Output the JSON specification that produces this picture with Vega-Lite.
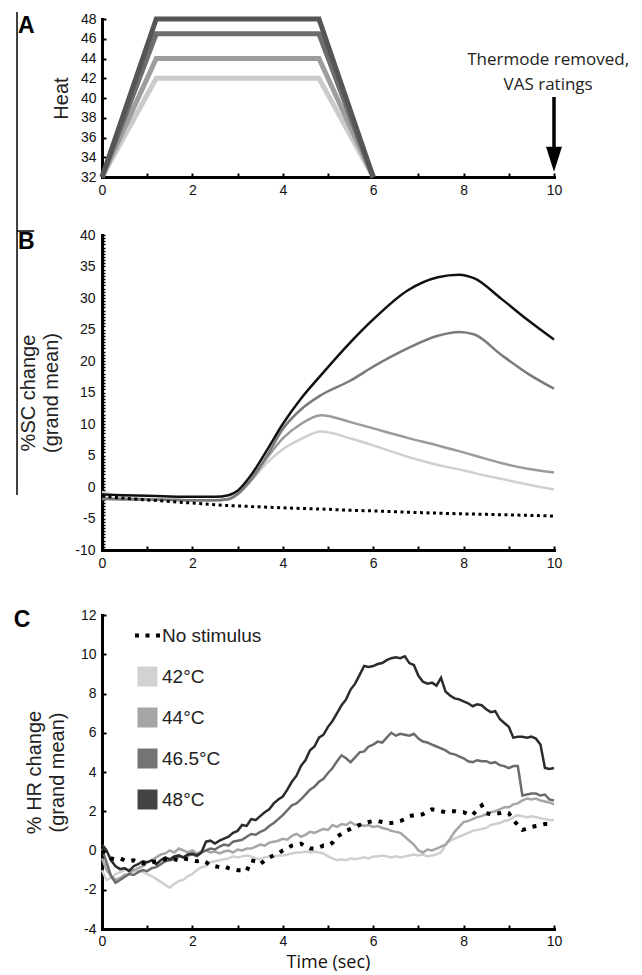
{
  "$schema": "https://vega.github.io/schema/vega-lite/v6.json",
  "padding": {"left": 13, "top": 9, "right": 5, "bottom": 5},
  "background": "white",
  "config": {
    "view": {"stroke": null},
    "axis": {
      "grid": false, "domainColor": "#000", "domainWidth": 3, "domainCap": "square",
      "tickColor": "#000", "tickWidth": 2, "tickSize": -4, "labelPadding": 10,
      "labelFont": "Liberation Sans", "labelFontSize": 14, "labelColor": "#111",
      "titleFont": "Liberation Sans", "titleFontSize": 20, "titleFontWeight": "normal", "titleColor": "#222",
      "labelOverlap": false, "labelSeparation": -12, "labelBound": false, "labelFlush": false
    }
  },
  "datasets": {
    "one": [{}],
    "heat": [
      {"t": 0, "a": 32, "b": 32, "c": 32, "d": 32},
      {"t": 1.2, "a": 42, "b": 44, "c": 46.5, "d": 48},
      {"t": 4.8, "a": 42, "b": 44, "c": 46.5, "d": 48},
      {"t": 6, "a": 32, "b": 32, "c": 32, "d": 32}
    ],
    "sc": [
      {"t": 0, "n": -1.4, "a": -0.8, "b": -1.9, "c": -1.8, "d": -1.2},
      {"t": 0.5, "n": -1.8, "a": -1.6, "b": -2.0, "c": -1.9, "d": -1.3},
      {"t": 1, "n": -2.05, "a": -1.9, "b": -2.0, "c": -2.0, "d": -1.4},
      {"t": 1.5, "n": -2.3, "a": -2.0, "b": -2.05, "c": -2.05, "d": -1.5},
      {"t": 2, "n": -2.55, "a": -2.1, "b": -2.1, "c": -2.1, "d": -1.55},
      {"t": 2.5, "n": -2.8, "a": -2.15, "b": -2.1, "c": -2.1, "d": -1.55},
      {"t": 2.8, "n": -2.95, "a": -1.9, "b": -1.95, "c": -1.9, "d": -1.3},
      {"t": 3, "n": -3.0, "a": -1.2, "b": -1.15, "c": -1.1, "d": -0.6},
      {"t": 3.3, "n": -3.1, "a": 1.0, "b": 1.1, "c": 1.2, "d": 1.9},
      {"t": 3.67, "n": -3.2, "a": 4.0, "b": 4.8, "c": 5.2, "d": 6.1},
      {"t": 4, "n": -3.3, "a": 6.0, "b": 7.7, "c": 9.2, "d": 10.0},
      {"t": 4.4, "n": -3.4, "a": 7.6, "b": 10.0, "c": 12.3, "d": 14.0},
      {"t": 4.85, "n": -3.5, "a": 8.8, "b": 11.4, "c": 14.6, "d": 17.8},
      {"t": 5.5, "n": -3.7, "a": 7.7, "b": 10.3, "c": 16.9, "d": 23.0},
      {"t": 6, "n": -3.8, "a": 6.6, "b": 9.3, "c": 19.1, "d": 26.6},
      {"t": 6.76, "n": -4.0, "a": 4.8, "b": 7.8, "c": 22.0, "d": 31.2},
      {"t": 7.43, "n": -4.15, "a": 3.5, "b": 6.6, "c": 24.0, "d": 33.3},
      {"t": 7.9, "n": -4.25, "a": 2.8, "b": 5.7, "c": 24.6, "d": 33.7},
      {"t": 8.24, "n": -4.3, "a": 2.2, "b": 5.0, "c": 24.2, "d": 33.1},
      {"t": 8.83, "n": -4.4, "a": 1.3, "b": 3.8, "c": 21.0, "d": 29.9},
      {"t": 9.42, "n": -4.5, "a": 0.4, "b": 2.9, "c": 18.0, "d": 26.5},
      {"t": 10, "n": -4.6, "a": -0.4, "b": 2.3, "c": 15.6, "d": 23.4}
    ],
    "hr": [
      {"t": 0.0, "n": 0.0, "a": -1.0, "b": -0.4, "c": 0.1, "d": 0.3},
      {"t": 0.1, "n": -0.2, "a": -1.5, "b": -1.0, "c": -0.6, "d": 0.0},
      {"t": 0.2, "n": -0.4, "a": -1.4, "b": -1.3, "c": -1.3, "d": -0.5},
      {"t": 0.3, "n": -0.45, "a": -1.2, "b": -1.5, "c": -1.65, "d": -0.8},
      {"t": 0.4, "n": -0.4, "a": -1.1, "b": -1.4, "c": -1.5, "d": -0.95},
      {"t": 0.5, "n": -0.5, "a": -1.0, "b": -1.25, "c": -1.35, "d": -0.9},
      {"t": 0.6, "n": -0.55, "a": -0.95, "b": -1.2, "c": -1.2, "d": -1.05},
      {"t": 0.7, "n": -0.5, "a": -1.05, "b": -1.0, "c": -1.25, "d": -0.8},
      {"t": 0.8, "n": -0.6, "a": -1.0, "b": -0.9, "c": -1.1, "d": -0.7},
      {"t": 0.9, "n": -0.65, "a": -1.1, "b": -0.8, "c": -1.0, "d": -0.55},
      {"t": 1.0, "n": -0.7, "a": -1.2, "b": -0.6, "c": -1.05, "d": -0.6},
      {"t": 1.1, "n": -0.6, "a": -1.3, "b": -0.5, "c": -0.9, "d": -0.5},
      {"t": 1.2, "n": -0.55, "a": -1.45, "b": -0.35, "c": -0.85, "d": -0.7},
      {"t": 1.3, "n": -0.5, "a": -1.6, "b": -0.2, "c": -0.7, "d": -0.5},
      {"t": 1.4, "n": -0.45, "a": -1.75, "b": -0.15, "c": -0.55, "d": -0.35},
      {"t": 1.5, "n": -0.5, "a": -1.9, "b": 0.0, "c": -0.5, "d": -0.45},
      {"t": 1.6, "n": -0.45, "a": -1.7, "b": -0.1, "c": -0.45, "d": -0.3},
      {"t": 1.7, "n": -0.5, "a": -1.55, "b": 0.1, "c": -0.3, "d": -0.25},
      {"t": 1.8, "n": -0.4, "a": -1.5, "b": 0.0, "c": -0.35, "d": -0.35},
      {"t": 1.9, "n": -0.45, "a": -1.3, "b": -0.1, "c": -0.25, "d": -0.2},
      {"t": 2.0, "n": -0.5, "a": -1.2, "b": 0.0, "c": -0.2, "d": -0.15},
      {"t": 2.1, "n": -0.55, "a": -1.0, "b": -0.15, "c": -0.3, "d": -0.25},
      {"t": 2.2, "n": -0.5, "a": -0.85, "b": -0.05, "c": -0.1, "d": -0.1},
      {"t": 2.3, "n": -0.6, "a": -0.8, "b": 0.0, "c": 0.0, "d": 0.45},
      {"t": 2.4, "n": -0.75, "a": -0.6, "b": -0.1, "c": 0.1, "d": 0.5},
      {"t": 2.5, "n": -0.8, "a": -0.55, "b": -0.05, "c": 0.05, "d": 0.35},
      {"t": 2.6, "n": -0.85, "a": -0.5, "b": -0.15, "c": 0.2, "d": 0.5},
      {"t": 2.7, "n": -0.8, "a": -0.45, "b": -0.05, "c": 0.3, "d": 0.6},
      {"t": 2.8, "n": -0.9, "a": -0.4, "b": 0.0, "c": 0.25, "d": 0.7},
      {"t": 2.9, "n": -0.95, "a": -0.3, "b": -0.1, "c": 0.45, "d": 0.9},
      {"t": 3.0, "n": -1.0, "a": -0.35, "b": 0.05, "c": 0.5, "d": 1.0},
      {"t": 3.1, "n": -1.0, "a": -0.3, "b": 0.0, "c": 0.55, "d": 1.3},
      {"t": 3.2, "n": -1.05, "a": -0.25, "b": 0.1, "c": 0.7, "d": 1.25},
      {"t": 3.3, "n": -0.5, "a": -0.3, "b": 0.1, "c": 0.84, "d": 1.6},
      {"t": 3.4, "n": -0.55, "a": -0.4, "b": 0.2, "c": 0.8, "d": 1.55},
      {"t": 3.5, "n": -0.7, "a": -0.45, "b": 0.3, "c": 0.95, "d": 1.75},
      {"t": 3.6, "n": -0.5, "a": -0.35, "b": 0.25, "c": 1.05, "d": 1.95},
      {"t": 3.7, "n": -0.35, "a": -0.3, "b": 0.4, "c": 1.25, "d": 2.1},
      {"t": 3.8, "n": -0.25, "a": -0.3, "b": 0.45, "c": 1.4, "d": 2.4},
      {"t": 3.9, "n": -0.15, "a": -0.25, "b": 0.5, "c": 1.6, "d": 2.6},
      {"t": 4.0, "n": 0.0, "a": -0.25, "b": 0.6, "c": 1.8, "d": 2.75},
      {"t": 4.1, "n": 0.1, "a": -0.2, "b": 0.55, "c": 2.05, "d": 3.1},
      {"t": 4.2, "n": 0.25, "a": -0.15, "b": 0.75, "c": 2.3, "d": 3.5},
      {"t": 4.3, "n": 0.3, "a": -0.1, "b": 0.85, "c": 2.4, "d": 3.8},
      {"t": 4.4, "n": 0.35, "a": -0.1, "b": 0.7, "c": 2.6, "d": 4.3},
      {"t": 4.5, "n": 0.2, "a": -0.05, "b": 0.8, "c": 2.85, "d": 4.6},
      {"t": 4.6, "n": 0.1, "a": -0.1, "b": 0.95, "c": 3.1, "d": 5.1},
      {"t": 4.7, "n": 0.1, "a": -0.05, "b": 0.9, "c": 3.25, "d": 5.3},
      {"t": 4.8, "n": 0.15, "a": -0.1, "b": 1.0, "c": 3.5, "d": 5.75},
      {"t": 4.9, "n": 0.25, "a": -0.15, "b": 1.1, "c": 3.65, "d": 5.9},
      {"t": 5.0, "n": 0.25, "a": -0.3, "b": 1.05, "c": 3.95, "d": 6.3},
      {"t": 5.1, "n": 0.4, "a": -0.4, "b": 1.3, "c": 4.2, "d": 6.6},
      {"t": 5.2, "n": 0.7, "a": -0.5, "b": 1.2, "c": 4.55, "d": 7.0},
      {"t": 5.3, "n": 0.85, "a": -0.45, "b": 1.35, "c": 4.85, "d": 7.4},
      {"t": 5.4, "n": 1.0, "a": -0.5, "b": 1.3, "c": 4.7, "d": 7.7},
      {"t": 5.5, "n": 1.1, "a": -0.4, "b": 1.45, "c": 4.5, "d": 8.2},
      {"t": 5.6, "n": 1.2, "a": -0.45, "b": 1.3, "c": 4.75, "d": 8.5},
      {"t": 5.7, "n": 1.3, "a": -0.4, "b": 1.35, "c": 5.0, "d": 8.95},
      {"t": 5.8, "n": 1.4, "a": -0.35, "b": 1.25, "c": 5.05, "d": 9.4},
      {"t": 5.9, "n": 1.45, "a": -0.4, "b": 1.3, "c": 5.3, "d": 9.35},
      {"t": 6.0, "n": 1.5, "a": -0.3, "b": 1.2, "c": 5.4, "d": 9.4},
      {"t": 6.1, "n": 1.5, "a": -0.3, "b": 1.25, "c": 5.55, "d": 9.5},
      {"t": 6.2, "n": 1.45, "a": -0.25, "b": 1.15, "c": 5.5, "d": 9.55},
      {"t": 6.3, "n": 1.4, "a": -0.3, "b": 1.1, "c": 5.75, "d": 9.7},
      {"t": 6.4, "n": 1.4, "a": -0.35, "b": 1.0, "c": 6.0, "d": 9.8},
      {"t": 6.5, "n": 1.45, "a": -0.3, "b": 0.95, "c": 5.85, "d": 9.85},
      {"t": 6.6, "n": 1.5, "a": -0.35, "b": 0.9, "c": 5.95, "d": 9.8},
      {"t": 6.7, "n": 1.6, "a": -0.3, "b": 0.7, "c": 5.9, "d": 9.9},
      {"t": 6.8, "n": 1.75, "a": -0.25, "b": 0.5, "c": 5.85, "d": 9.55},
      {"t": 6.9, "n": 1.8, "a": -0.2, "b": 0.3, "c": 5.95, "d": 9.45},
      {"t": 7.0, "n": 1.8, "a": -0.25, "b": 0.0, "c": 5.7, "d": 8.9},
      {"t": 7.1, "n": 1.85, "a": -0.2, "b": -0.1, "c": 5.55, "d": 8.6},
      {"t": 7.2, "n": 2.0, "a": -0.3, "b": 0.05, "c": 5.5, "d": 8.5},
      {"t": 7.3, "n": 2.1, "a": -0.25, "b": 0.0, "c": 5.4, "d": 8.55},
      {"t": 7.4, "n": 2.05, "a": -0.2, "b": 0.1, "c": 5.3, "d": 8.4},
      {"t": 7.5, "n": 2.0, "a": -0.1, "b": 0.2, "c": 5.2, "d": 8.8},
      {"t": 7.6, "n": 1.95, "a": 0.3, "b": 0.3, "c": 5.1, "d": 8.1},
      {"t": 7.7, "n": 2.0, "a": 0.5, "b": 0.6, "c": 4.95, "d": 7.9},
      {"t": 7.8, "n": 2.0, "a": 0.6, "b": 0.95, "c": 4.9, "d": 7.75},
      {"t": 7.9, "n": 1.95, "a": 0.7, "b": 1.2, "c": 4.8, "d": 7.7},
      {"t": 8.0, "n": 1.95, "a": 0.8, "b": 1.45, "c": 4.7, "d": 7.6},
      {"t": 8.1, "n": 1.85, "a": 0.9, "b": 1.5, "c": 4.55, "d": 7.5},
      {"t": 8.2, "n": 1.8, "a": 1.0, "b": 1.6, "c": 4.5, "d": 7.35},
      {"t": 8.3, "n": 2.1, "a": 1.05, "b": 1.7, "c": 4.6, "d": 7.45},
      {"t": 8.4, "n": 2.3, "a": 1.1, "b": 1.75, "c": 4.55, "d": 7.4},
      {"t": 8.5, "n": 1.9, "a": 1.15, "b": 1.85, "c": 4.55, "d": 7.2},
      {"t": 8.6, "n": 1.85, "a": 1.3, "b": 1.95, "c": 4.45, "d": 7.05},
      {"t": 8.7, "n": 1.9, "a": 1.35, "b": 2.0, "c": 4.5, "d": 7.1},
      {"t": 8.8, "n": 1.9, "a": 1.4, "b": 2.1, "c": 4.35, "d": 6.7},
      {"t": 8.9, "n": 1.95, "a": 1.5, "b": 2.2, "c": 4.3, "d": 6.5},
      {"t": 9.0, "n": 1.9, "a": 1.55, "b": 2.2, "c": 4.2, "d": 6.3},
      {"t": 9.1, "n": 1.55, "a": 1.7, "b": 2.35, "c": 4.3, "d": 5.75},
      {"t": 9.2, "n": 1.3, "a": 1.8, "b": 2.4, "c": 4.3, "d": 5.8},
      {"t": 9.3, "n": 1.05, "a": 1.75, "b": 2.55, "c": 2.8, "d": 5.8},
      {"t": 9.4, "n": 1.1, "a": 1.7, "b": 2.65, "c": 2.85, "d": 5.75},
      {"t": 9.5, "n": 1.2, "a": 1.75, "b": 2.6, "c": 2.9, "d": 5.8},
      {"t": 9.6, "n": 1.25, "a": 1.7, "b": 2.65, "c": 2.9, "d": 5.7},
      {"t": 9.7, "n": 1.3, "a": 1.65, "b": 2.55, "c": 2.8, "d": 5.4},
      {"t": 9.8, "n": 1.35, "a": 1.6, "b": 2.5, "c": 2.85, "d": 4.2},
      {"t": 9.9, "n": 1.35, "a": 1.55, "b": 2.45, "c": 2.6, "d": 4.15},
      {"t": 10.0, "n": 1.4, "a": 1.55, "b": 2.35, "c": 2.55, "d": 4.2}
    ]
  },
  "bounds": "flush",
  "spacing": 58,
  "resolve": {"scale": {"color": "independent"}},
  "vconcat": [
    {
      "width": 452,
      "height": 158,
      "layer": [
        {
          "data": {"name": "heat"},
          "transform": [{"fold": ["a", "b", "c", "d"], "as": ["key", "v"]}],
          "mark": {"type": "line", "strokeWidth": 5},
          "encoding": {
            "x": {"field": "t", "type": "quantitative", "scale": {"domain": [0, 10], "nice": false, "zero": false},
                  "axis": {"values": [0, 1, 2, 3, 4, 5, 6, 7, 8, 9, 10], "labelExpr": "datum.value % 2 == 0 ? '' + datum.value : ''", "labelOverlap": false, "title": null}},
            "y": {"field": "v", "type": "quantitative", "scale": {"domain": [32, 48], "nice": false, "zero": false},
                  "axis": {"tickCount": 8, "format": "d", "labelOverlap": false, "labelSeparation": -12, "labelFontSize": 14, "title": "Heat", "titlePadding": 9}},
            "color": {"field": "key", "type": "nominal", "scale": {"domain": ["a", "b", "c", "d"], "range": ["#cbcbcb", "#9d9d9d", "#6d6d6d", "#555555"]}, "legend": null}
          }
        },
        {
          "data": {"name": "one"},
          "mark": {"type": "rule", "color": "#000", "strokeWidth": 3.5},
          "encoding": {"x": {"datum": 10, "type": "quantitative"}, "y": {"datum": 40.1, "type": "quantitative"}, "y2": {"datum": 34.9}}
        },
        {
          "data": {"name": "one"},
          "mark": {"type": "point", "shape": "M-0.64,-1L0.64,-1L0,1Z", "size": 625, "filled": true, "color": "#000", "opacity": 1, "strokeWidth": 0},
          "encoding": {"x": {"datum": 10, "type": "quantitative"}, "y": {"datum": 33.8, "type": "quantitative"}}
        },
        {
          "data": {"name": "one"},
          "mark": {"type": "text", "font": "Open Sans", "fontSize": 17, "color": "#222", "align": "center", "baseline": "middle", "lineHeight": 25},
          "encoding": {"x": {"datum": 9.87, "type": "quantitative"}, "y": {"datum": 43.85, "type": "quantitative"}, "text": {"value": ["Thermode removed,", "VAS ratings"]}}
        },
        {
          "data": {"name": "one"},
          "mark": {"type": "text", "text": "A", "font": "Liberation Sans", "fontSize": 23, "fontWeight": "bold", "color": "#000", "align": "left", "baseline": "middle"},
          "encoding": {"x": {"datum": -1.86, "type": "quantitative"}, "y": {"datum": 47.3, "type": "quantitative"}}
        },
        {
          "data": {"name": "one"},
          "mark": {"type": "rule", "color": "#000", "strokeWidth": 1.5},
          "encoding": {"x": {"datum": -1.88, "type": "quantitative"}, "y": {"datum": 48.7, "type": "quantitative"}, "y2": {"datum": 26.6}}
        }
      ]
    },
    {
      "width": 452,
      "height": 315,
      "layer": [
        {
          "data": {"name": "sc"},
          "transform": [{"fold": ["a", "b", "c", "d"], "as": ["key", "v"]}],
          "mark": {"type": "line", "interpolate": "monotone", "strokeWidth": 2.5},
          "encoding": {
            "x": {"field": "t", "type": "quantitative", "scale": {"domain": [0, 10], "nice": false, "zero": false},
                  "axis": {"values": [0, 1, 2, 3, 4, 5, 6, 7, 8, 9, 10], "labelExpr": "datum.value % 2 == 0 ? '' + datum.value : ''", "labelOverlap": false, "title": null}},
            "y": {"field": "v", "type": "quantitative", "scale": {"domain": [-10, 40], "nice": false, "zero": false},
                  "axis": {"tickCount": 100, "labelExpr": "datum.value % 5 == 0 ? '' + datum.value : ''", "labelOverlap": false, "tickSize": -3, "tickWidth": 1.5,
                           "title": ["%SC change", "(grand mean)"], "titleLineHeight": 23, "titlePadding": 13}},
            "color": {"field": "key", "type": "nominal", "scale": {"domain": ["n", "a", "b", "c", "d"], "range": ["#000000", "#d0d0d0", "#9b9b9b", "#7a7a7a", "#111111"]}, "legend": null}
          }
        },
        {
          "data": {"name": "sc"},
          "transform": [{"fold": ["n"], "as": ["key", "v"]}],
          "mark": {"type": "line", "interpolate": "monotone", "strokeWidth": 3, "strokeDash": [3, 3.5]},
          "encoding": {
            "x": {"field": "t", "type": "quantitative"},
            "y": {"field": "v", "type": "quantitative"},
            "color": {"field": "key", "type": "nominal"}
          }
        },
        {
          "data": {"name": "one"},
          "mark": {"type": "text", "text": "B", "font": "Liberation Sans", "fontSize": 23, "fontWeight": "bold", "color": "#000", "align": "left", "baseline": "middle"},
          "encoding": {"x": {"datum": -1.86, "type": "quantitative"}, "y": {"datum": 38.9, "type": "quantitative"}}
        },
        {
          "data": {"name": "one"},
          "mark": {"type": "rule", "color": "#000", "strokeWidth": 1.5},
          "encoding": {"x": {"datum": -1.88, "type": "quantitative"}, "y": {"datum": 40.8, "type": "quantitative"}, "y2": {"datum": -1.27}}
        },
        {
          "data": {"name": "one"},
          "mark": {"type": "rule", "color": "#000", "strokeWidth": 1.5},
          "encoding": {"x": {"datum": -1.88, "type": "quantitative"}, "x2": {"datum": -1.5}, "y": {"datum": 40.63, "type": "quantitative"}}
        }
      ]
    },
    {
      "width": 452,
      "height": 321,
      "layer": [
        {
          "data": {"name": "hr"},
          "transform": [{"fold": ["a", "b", "c", "d"], "as": ["key", "v"]}],
          "mark": {"type": "line", "strokeWidth": 2.5},
          "encoding": {
            "x": {"field": "t", "type": "quantitative", "scale": {"domain": [0, 10], "nice": false, "zero": false},
                  "axis": {"values": [0, 1, 2, 3, 4, 5, 6, 7, 8, 9, 10], "labelExpr": "datum.value % 2 == 0 ? '' + datum.value : ''", "labelOverlap": false, "labelPadding": 9,
                           "title": "Time (sec)", "titleFont": "Open Sans", "titleFontSize": 18, "titlePadding": 5, "titleColor": "#111"}},
            "y": {"field": "v", "type": "quantitative", "scale": {"domain": [-4, 12], "range": [321, 7], "nice": false, "zero": false},
                  "axis": {"values": [-4, -3, -2, -1, 0, 1, 2, 3, 4, 5, 6, 7, 8, 9, 10, 11, 12], "labelExpr": "datum.value % 2 == 0 ? '' + datum.value : ''", "labelOverlap": false,
                           "title": ["% HR change", "(grand mean)"], "titleLineHeight": 23, "titlePadding": 13}},
            "color": {
              "field": "key", "type": "nominal",
              "scale": {"domain": ["n", "a", "b", "c", "d"], "range": ["#000000", "#cfcfcf", "#a6a6a6", "#6c6c6c", "#2c2c2c"]},
              "legend": {
                "orient": "none", "legendX": 36, "legendY": 18, "title": null, "padding": 0,
                "symbolType": "square", "symbolSize": 400, "rowPadding": 20, "labelOffset": 5,
                "labelFont": "Liberation Sans", "labelFontSize": 19, "labelColor": "#222", "labelLimit": 300,
                "labelExpr": "datum.value == 'n' ? 'No stimulus' : datum.value == 'a' ? '42°C' : datum.value == 'b' ? '44°C' : datum.value == 'c' ? '46.5°C' : '48°C'",
                "encode": {
                  "symbols": {
                    "update": {
                      "shape": {"signal": "datum.value == 'n' ? 'M-1.25,0L1.25,0' : 'square'"},
                      "fill": {"signal": "datum.value == 'n' ? 'transparent' : datum.value == 'a' ? '#d2d2d2' : datum.value == 'b' ? '#a6a6a6' : datum.value == 'c' ? '#747474' : '#444444'"},
                      "stroke": {"signal": "datum.value == 'n' ? '#000000' : 'transparent'"},
                      "strokeDash": {"signal": "datum.value == 'n' ? [4, 6.5] : [1, 0]"},
                      "strokeWidth": {"signal": "datum.value == 'n' ? 4 : 0"},
                      "opacity": {"value": 1}
                    }
                  }
                }
              }
            }
          }
        },
        {
          "data": {"name": "hr"},
          "transform": [{"fold": ["n"], "as": ["key", "v"]}],
          "mark": {"type": "line", "strokeWidth": 4, "strokeDash": [4, 7]},
          "encoding": {
            "x": {"field": "t", "type": "quantitative"},
            "y": {"field": "v", "type": "quantitative"},
            "color": {"field": "key", "type": "nominal"}
          }
        },
        {
          "data": {"name": "one"},
          "mark": {"type": "text", "text": "C", "font": "Liberation Sans", "fontSize": 23, "fontWeight": "bold", "color": "#000", "align": "left", "baseline": "middle"},
          "encoding": {"x": {"datum": -1.95, "type": "quantitative"}, "y": {"datum": 11.75, "type": "quantitative"}}
        }
      ]
    }
  ]
}
